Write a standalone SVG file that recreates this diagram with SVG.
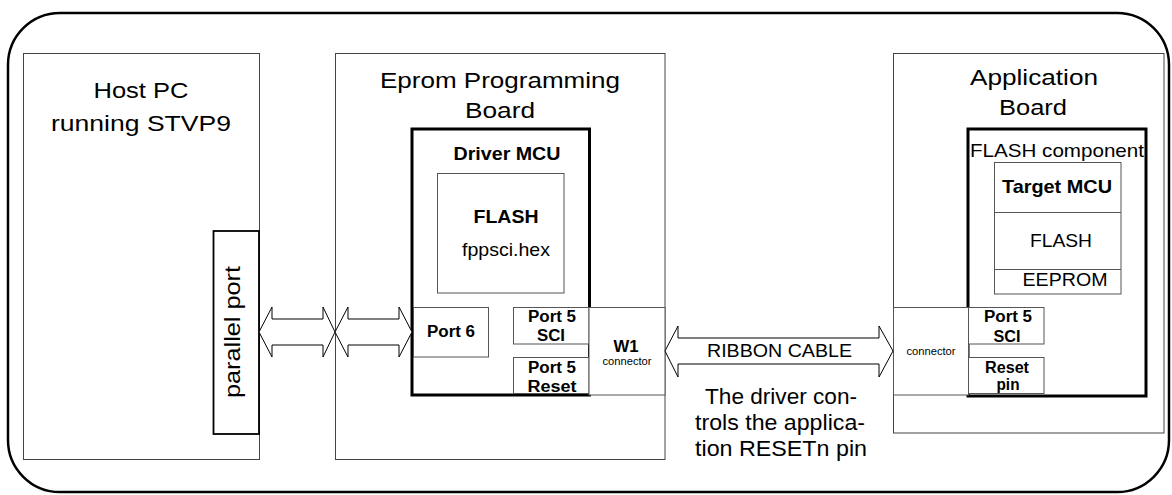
<svg xmlns="http://www.w3.org/2000/svg" width="1172" height="495" viewBox="0 0 1172 495">
<style>
text{font-family:"Liberation Sans",Arial,sans-serif;fill:#000;text-anchor:middle}
.t{font-size:22px}
.m{font-size:19px}
.b{font-size:19px;font-weight:bold}
.p{font-size:16px;font-weight:bold}
.s{font-size:11px}
.board{fill:#fff;stroke:#444;stroke-width:1}
.thin{fill:#fff;stroke:#555;stroke-width:1}
.thick{fill:#fff;stroke:#000;stroke-width:3}
.arrow{fill:#fff;stroke:#000;stroke-width:1;stroke-linejoin:miter}
</style>
<rect x="8" y="13" width="1161" height="479" rx="52" ry="52" fill="#fff" stroke="#000" stroke-width="2.5"/>

<g id="host-pc">
<rect class="board" x="23.5" y="53.5" width="236" height="406"/>
<text class="t" x="141" y="98" textLength="95" lengthAdjust="spacingAndGlyphs">Host PC</text>
<text class="t" x="141" y="131" textLength="180" lengthAdjust="spacingAndGlyphs">running STVP9</text>
</g>
<g id="parallel-port">
<rect x="213.5" y="231" width="45.5" height="203" fill="#fff" stroke="#000" stroke-width="1.8"/>
<text class="t" transform="translate(240,332) rotate(-90)" x="0" y="0" textLength="132" lengthAdjust="spacingAndGlyphs">parallel port</text>
</g>

<g id="eprom-board">
<rect class="board" x="335.5" y="53.5" width="329.5" height="406"/>
<text class="t" x="500" y="88" textLength="240" lengthAdjust="spacingAndGlyphs">Eprom Programming</text>
<text class="t" x="500" y="118" textLength="70" lengthAdjust="spacingAndGlyphs">Board</text>
</g>
<g id="driver-mcu">
<rect class="thick" x="412" y="129" width="177.5" height="266"/>
<text class="b" x="507" y="160" textLength="107" lengthAdjust="spacingAndGlyphs">Driver MCU</text>
</g>
<g id="driver-flash">
<rect class="thin" x="437.5" y="173.5" width="126.5" height="119.5"/>
<text class="b" x="506" y="223" textLength="65" lengthAdjust="spacingAndGlyphs">FLASH</text>
<text class="m" x="506" y="256" textLength="88" lengthAdjust="spacingAndGlyphs">fppsci.hex</text>
</g>
<g id="port6">
<rect class="thin" x="413.5" y="307.5" width="75" height="49.5"/>
<text class="p" x="451" y="337" textLength="48" lengthAdjust="spacingAndGlyphs">Port 6</text>
</g>
<g id="driver-port5-sci">
<rect class="thin" x="513.5" y="307.5" width="75.5" height="36.5"/>
<text class="p" x="552" y="322" textLength="48" lengthAdjust="spacingAndGlyphs">Port 5</text>
<text class="p" x="551" y="341" textLength="28" lengthAdjust="spacingAndGlyphs">SCI</text>
</g>
<g id="driver-port5-reset">
<rect class="thin" x="513.5" y="357.5" width="75.5" height="36"/>
<text class="p" x="552" y="373" textLength="48" lengthAdjust="spacingAndGlyphs">Port 5</text>
<text class="p" x="552" y="392" textLength="49" lengthAdjust="spacingAndGlyphs">Reset</text>
</g>
<g id="w1-connector">
<rect class="thin" x="589" y="307.5" width="76" height="87.5"/>
<text class="p" x="626" y="352" textLength="25" lengthAdjust="spacingAndGlyphs">W1</text>
<text class="s" x="627" y="365" textLength="49" lengthAdjust="spacingAndGlyphs">connector</text>
</g>

<g id="application-board">
<rect class="board" x="893.5" y="53.5" width="270.5" height="379.5"/>
<text class="t" x="1034" y="85" textLength="128" lengthAdjust="spacingAndGlyphs">Application</text>
<text class="t" x="1033" y="115" textLength="68" lengthAdjust="spacingAndGlyphs">Board</text>
</g>
<g id="flash-component">
<rect class="thick" x="968" y="129" width="178" height="267"/>
<text class="m" x="1057" y="157" textLength="174" lengthAdjust="spacingAndGlyphs">FLASH component</text>
</g>
<g id="target-mcu">
<rect class="thin" x="994.5" y="162.5" width="126.5" height="131.5"/>
<line x1="994.5" y1="212.5" x2="1121" y2="212.5" stroke="#555" stroke-width="1"/>
<line x1="994.5" y1="269.5" x2="1121" y2="269.5" stroke="#555" stroke-width="1"/>
<text class="b" x="1057" y="193" textLength="110" lengthAdjust="spacingAndGlyphs">Target MCU</text>
<text class="m" x="1061" y="247" textLength="62" lengthAdjust="spacingAndGlyphs">FLASH</text>
<text class="m" x="1065" y="286" textLength="85" lengthAdjust="spacingAndGlyphs">EEPROM</text>
</g>
<g id="app-connector">
<rect class="thin" x="893.5" y="307.5" width="75" height="87.5"/>
<text class="s" x="931" y="355" textLength="49" lengthAdjust="spacingAndGlyphs">connector</text>
</g>
<g id="app-port5-sci">
<rect class="thin" x="968.5" y="307.5" width="75.5" height="36.5"/>
<text class="p" x="1008" y="322" textLength="48" lengthAdjust="spacingAndGlyphs">Port 5</text>
<text class="p" x="1007" y="342" textLength="27" lengthAdjust="spacingAndGlyphs">SCI</text>
</g>
<g id="app-reset-pin">
<rect class="thin" x="968.5" y="357.5" width="75.5" height="36"/>
<text class="p" x="1007" y="373" textLength="44" lengthAdjust="spacingAndGlyphs">Reset</text>
<text class="p" x="1008" y="390" textLength="23" lengthAdjust="spacingAndGlyphs">pin</text>
</g>

<g id="connectors">
<polygon class="arrow" points="259,332 272,307 272,319 323,319 323,307 335,332 323,357 323,345 272,345 272,357"/>
<polygon class="arrow" points="335,332 348,307 348,319 399,319 399,307 412,332 399,357 399,345 348,345 348,357"/>
<polygon class="arrow" points="665,351 678,326 678,338 879,338 879,326 893,351 879,377 879,364 678,364 678,377"/>
<text class="m" x="779.5" y="357" textLength="145" lengthAdjust="spacingAndGlyphs">RIBBON CABLE</text>
<text class="t" x="781" y="404" textLength="152" lengthAdjust="spacingAndGlyphs">The driver con-</text>
<text class="t" x="780" y="430" textLength="170" lengthAdjust="spacingAndGlyphs">trols the applica-</text>
<text class="t" x="781" y="456" textLength="172" lengthAdjust="spacingAndGlyphs">tion RESETn pin</text>
</g>
</svg>
